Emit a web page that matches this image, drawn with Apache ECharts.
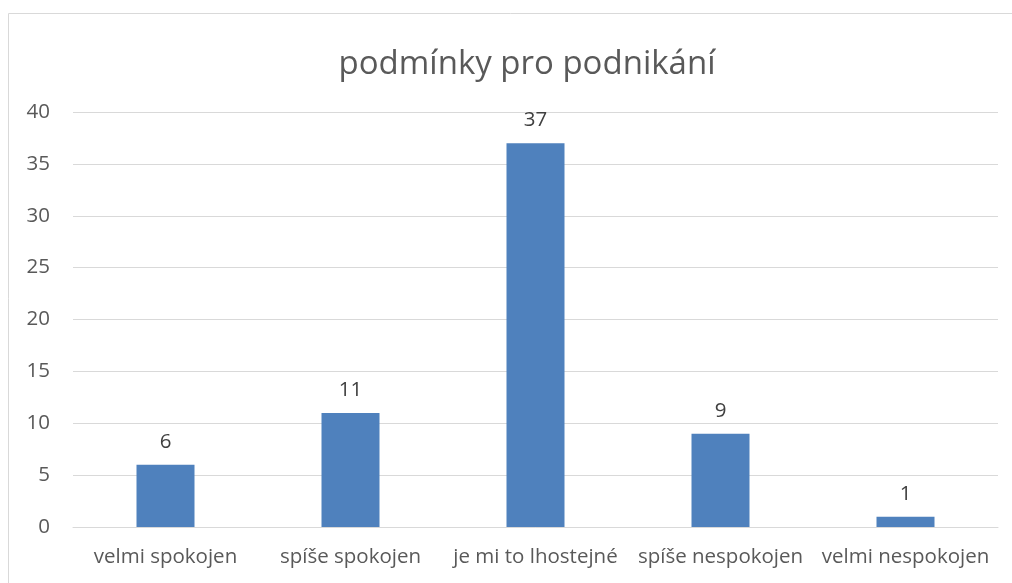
<!DOCTYPE html>
<html>
<head>
<meta charset="utf-8">
<script src="https://cdn.jsdelivr.net/npm/echarts@6/dist/echarts.min.js"></script>
<style>
html,body{margin:0;padding:0;background:#fff;}
#chart{width:1012px;height:583px;}
</style>
</head>
<body>
<div id="chart"></div>
<script>
var categories = ['velmi spokojen', 'spíše spokojen', 'je mi to lhostejné', 'spíše nespokojen', 'velmi nespokojen'];
var values = [6, 11, 37, 9, 1];
var yTicks = {min: 0, max: 40, interval: 5};
var fontFam = '"Open Sans", sans-serif';

var myChart = echarts.init(document.getElementById('chart'));
myChart.setOption({
	animation: false,
	// rámeček grafu
	graphic: [{
		type: 'rect',
		shape: {x: 8.5, y: 13.5, width: 1010, height: 580},
		style: {fill: 'none', stroke: '#d9d9d9', lineWidth: 1}
	}],
	title: {
		text: 'podmínky pro podnikání',
		left: 522,
		top: 43,
		textAlign: 'center',
		textStyle: {fontFamily: fontFam, fontSize: 33, fontWeight: 'normal', color: '#595959'}
	},
	grid: {left: 73, right: 14, top: 112, bottom: 56},
	xAxis: {
		type: 'category',
		data: categories,
		axisLine: {lineStyle: {color: '#d9d9d9'}},
		axisTick: {show: false},
		axisLabel: {fontFamily: fontFam, fontSize: 20.5, color: '#595959', margin: 20, interval: 0}
	},
	yAxis: {
		type: 'value',
		min: yTicks.min,
		max: yTicks.max,
		interval: yTicks.interval,
		axisLine: {show: false},
		axisTick: {show: false},
		splitLine: {lineStyle: {color: '#d9d9d9'}},
		axisLabel: {fontFamily: fontFam, fontSize: 20.5, color: '#595959', margin: 23}
	},
	series: [{
		type: 'bar',
		data: values,
		barWidth: 58,
		itemStyle: {color: '#4f81bd'},
		label: {show: true, position: 'top', distance: 12, fontFamily: fontFam, fontSize: 20.5, color: '#404040'}
	}]
});
</script>
</body>
</html>
